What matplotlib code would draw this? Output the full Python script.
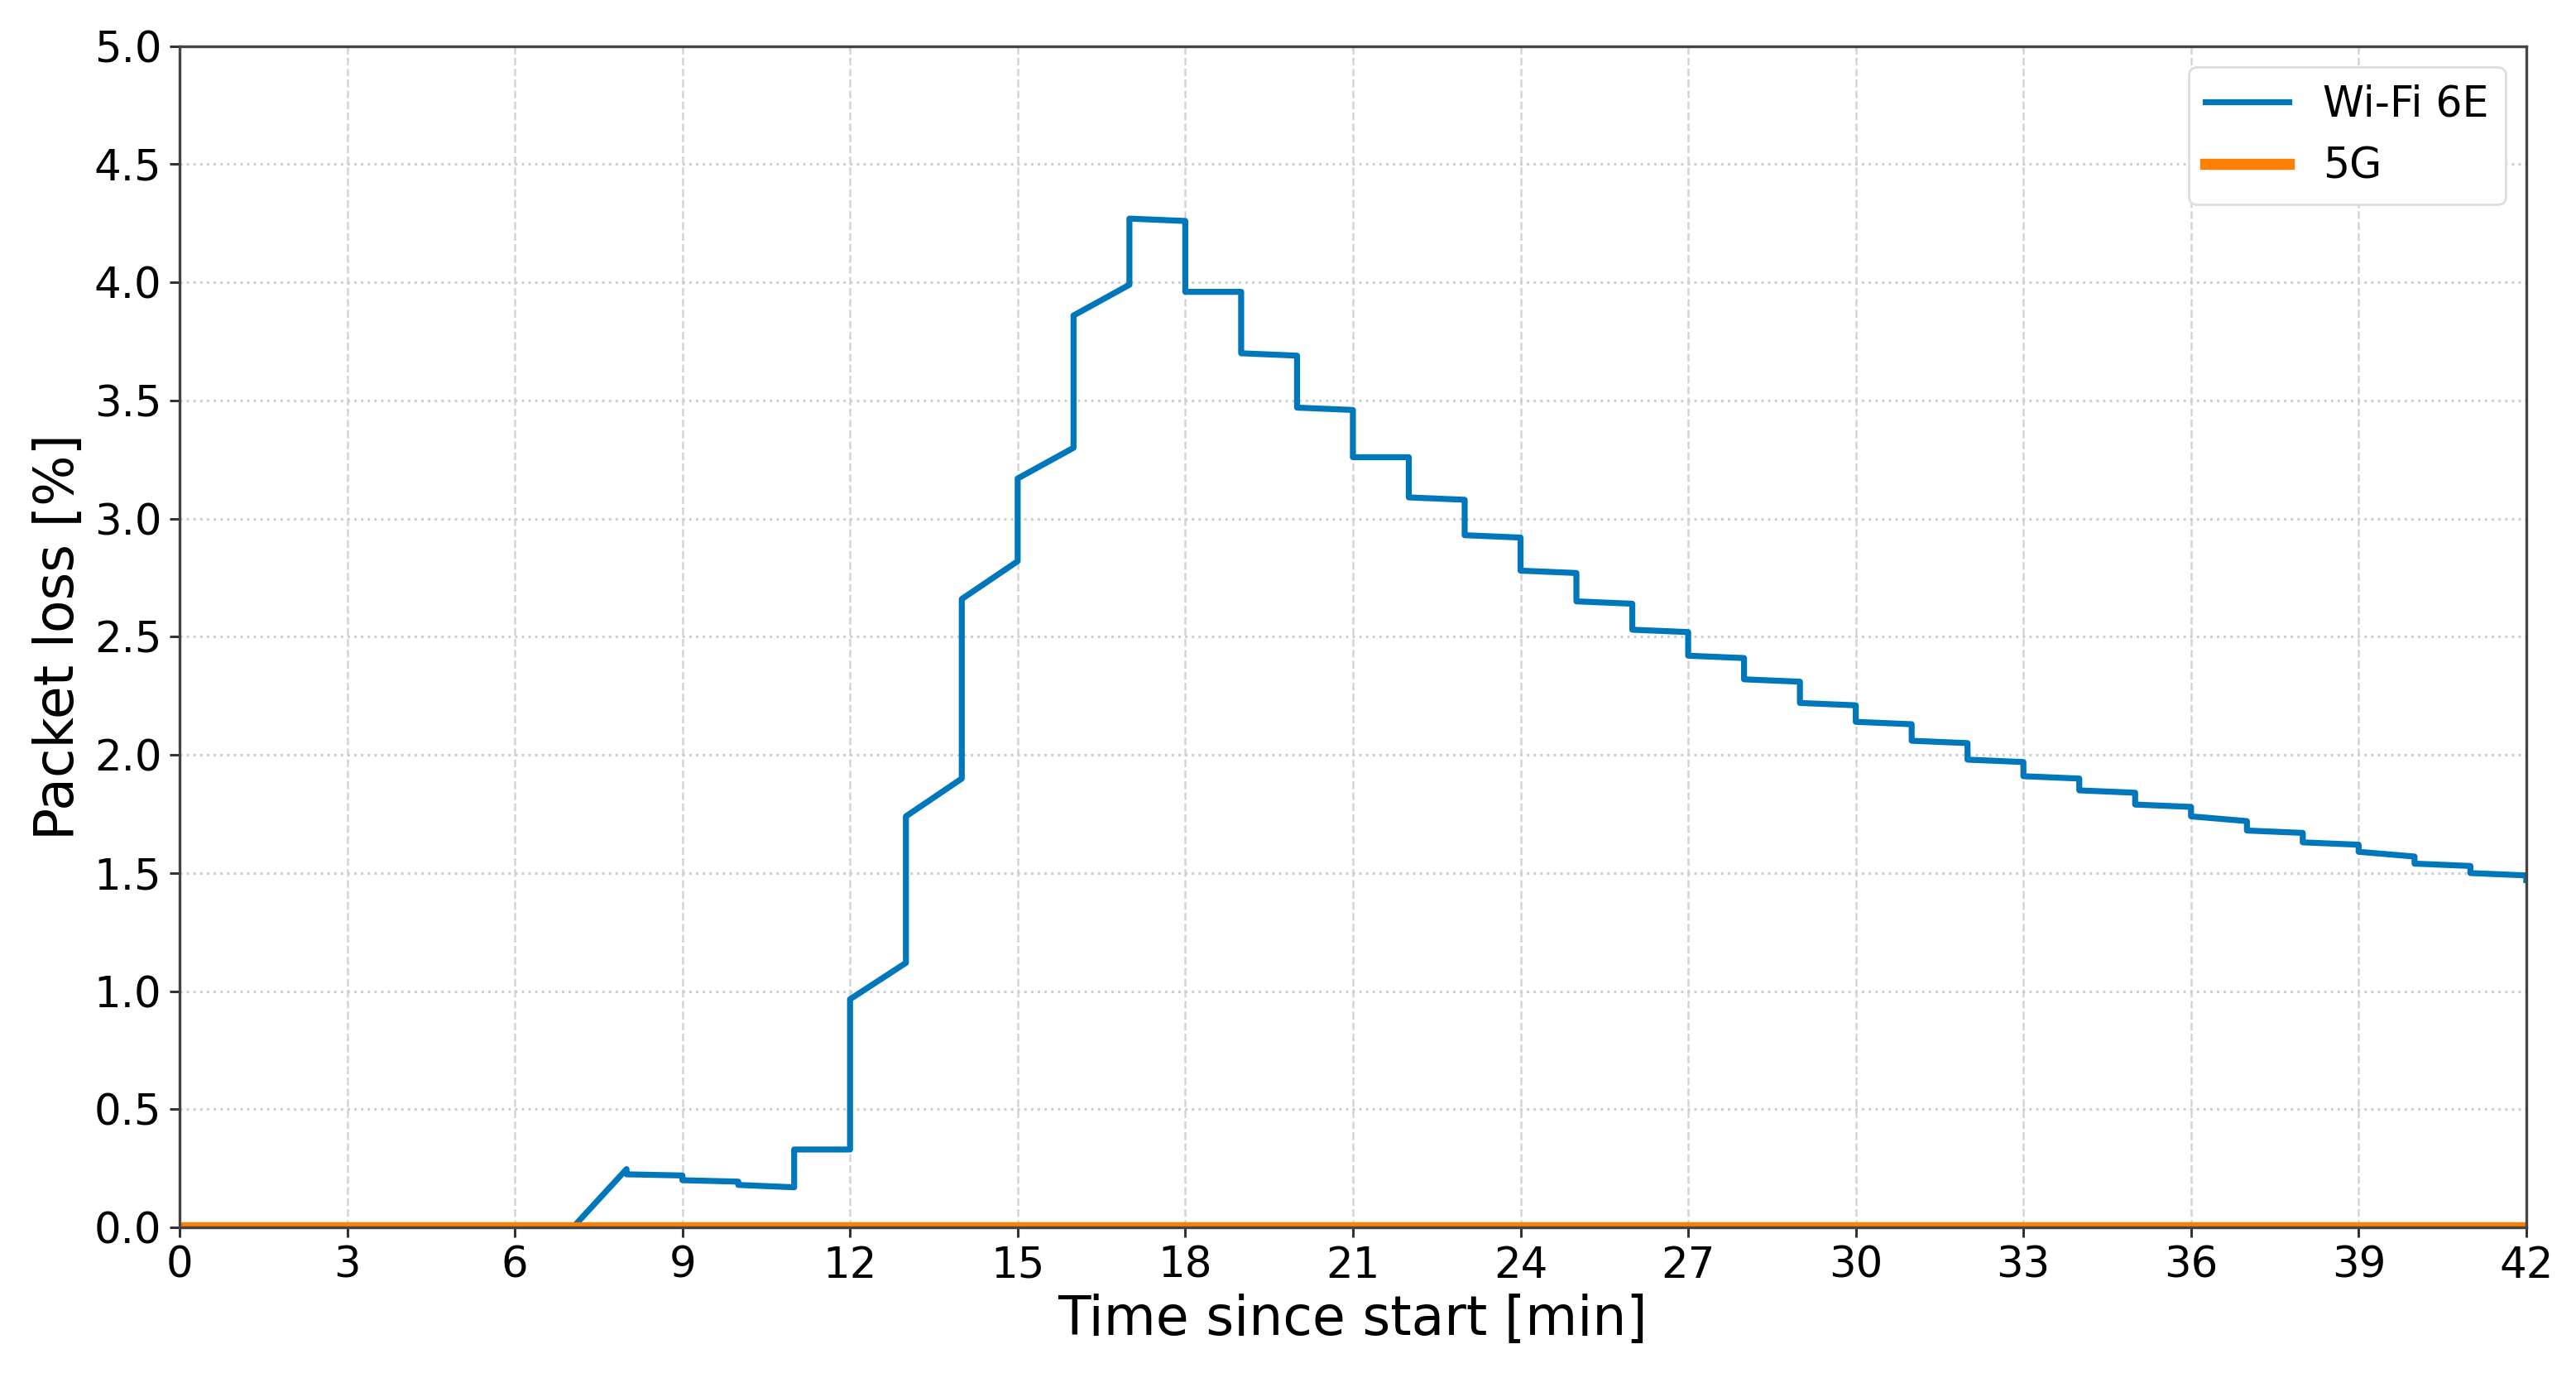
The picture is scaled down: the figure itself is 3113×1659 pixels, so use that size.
import numpy as np
import matplotlib
matplotlib.use("Agg")
from matplotlib import pyplot as plt

# Wi-Fi 6E packet loss: ramp-in, then one segment per minute (value at start, value at end)
ramp_t = [0, 7.04, 8]
ramp_loss = [0.0, 0.0, 0.247]
minutes = list(range(8, 42))
loss_start = [0.225, 0.20, 0.18, 0.33, 0.966, 1.74, 2.66, 3.17, 3.86, 4.27,
              3.96, 3.70, 3.47, 3.26, 3.09, 2.93, 2.78, 2.65, 2.53, 2.42,
              2.32, 2.22, 2.14, 2.06, 1.98, 1.91, 1.85, 1.79, 1.74, 1.68,
              1.63, 1.59, 1.54, 1.50]
loss_end = [0.22, 0.194, 0.17, 0.33, 1.12, 1.90, 2.82, 3.30, 3.99, 4.26,
            3.96, 3.69, 3.46, 3.26, 3.08, 2.92, 2.77, 2.64, 2.52, 2.41,
            2.31, 2.21, 2.13, 2.05, 1.97, 1.90, 1.84, 1.78, 1.72, 1.67,
            1.62, 1.57, 1.53, 1.49]
end_t = 42
end_loss = 1.47

# 5G: no loss at all
t_5g = [0, 42]
loss_5g = [0.0, 0.0]

x_ticks = list(range(0, 43, 3))
y_ticks = [0.0, 0.5, 1.0, 1.5, 2.0, 2.5, 3.0, 3.5, 4.0, 4.5, 5.0]

t_wifi = list(ramp_t)
l_wifi = list(ramp_loss)
for m, a, b in zip(minutes, loss_start, loss_end):
    t_wifi += [m, m + 1]
    l_wifi += [a, b]
t_wifi.append(end_t)
l_wifi.append(end_loss)

fig = plt.figure(figsize=(15.565, 8.295), dpi=200)
ax = fig.add_axes([0.0697, 0.106, 0.911, 0.8604])

ax.plot(t_wifi, l_wifi, color='#0077bb', lw=2.6, label='Wi-Fi 6E', zorder=3)
ax.plot(t_5g, loss_5g, color='#ff7f00', lw=4.8, label='5G', zorder=4)

ax.set_xlim(0, 42)
ax.set_ylim(0, 5)
ax.set_xticks(x_ticks)
ax.set_yticks(y_ticks)
ax.yaxis.set_major_formatter(matplotlib.ticker.FormatStrFormatter('%.1f'))
ax.tick_params(labelsize=18.5, length=4.3, width=1.1, color='#333333')

ax.xaxis.grid(True, linestyle='--', color='#d4d4d4', lw=0.9)
ax.yaxis.grid(True, linestyle=':', color='#cfcfcf', lw=1.1)
ax.set_axisbelow(True)
for s in ax.spines.values():
    s.set_color('#444444')
    s.set_linewidth(1.2)
    s.set_zorder(5)

ax.set_xlabel('Time since start [min]', fontsize=23.3, labelpad=3)
ax.set_ylabel('Packet loss [%]', fontsize=23.3, labelpad=4)

leg = ax.legend(loc='upper right', fontsize=18.2, framealpha=1,
                edgecolor='#dddddd', fancybox=True)

fig.savefig('out.png', dpi=200)
